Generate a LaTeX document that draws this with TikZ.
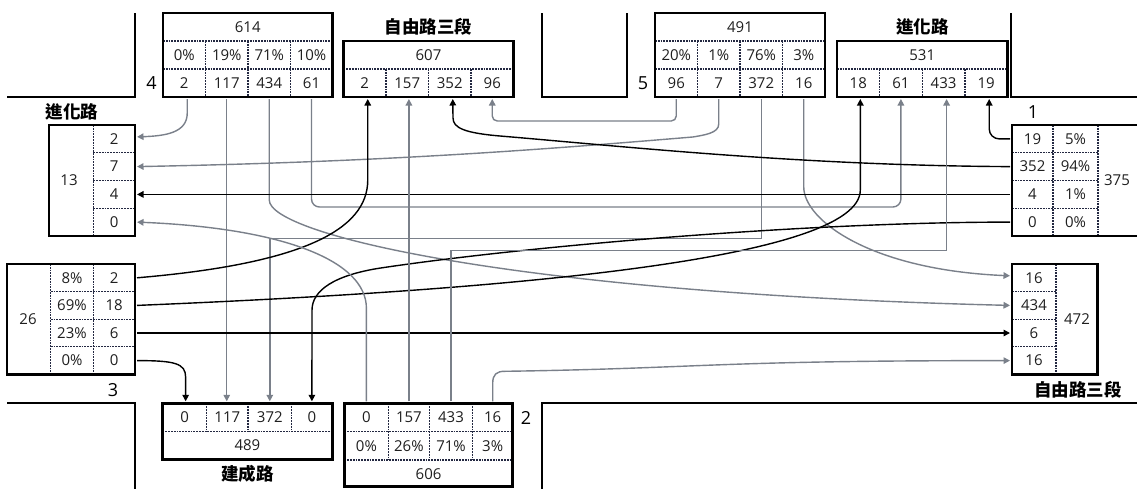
\documentclass[tikz,border=0pt]{standalone}
\usepackage{fontspec}
\setmainfont{Open Sans}
\newfontfamily\cjk{Noto Sans CJK TC}
\usetikzlibrary{arrows.meta,calc}
\definecolor{arrgray}{RGB}{122,128,138}
\definecolor{divc}{RGB}{35,40,65}
\begin{document}
\begin{tikzpicture}[x=1pt,y=-1pt,
  boxline/.style={draw=black,line width=2.8pt},
  roadline/.style={draw=black,line width=2.8pt},
  divline/.style={draw=divc,line width=1.3pt,dash pattern=on 1.8pt off 1pt},
  numtxt/.style={font=\fontsize{15}{17}\selectfont,inner sep=0pt,text=black!88},
  topcell/.style={numtxt,minimum width=42.4pt,minimum height=28pt,outer sep=2pt},
  botcell/.style={numtxt,minimum width=42.4pt,minimum height=28.4pt,outer sep=2pt},
  sidecell/.style={numtxt,minimum width=41.7pt,minimum height=27.75pt,outer sep=2pt},
  bignum/.style={font=\fontsize{18}{20}\selectfont,inner sep=0pt},
  cjklab/.style={font=\cjk\bfseries\fontsize{17.5}{19}\selectfont,inner sep=0pt},
  arrtip/.style={-{Triangle[length=6.5pt,width=6.5pt]}},
  garr/.style={draw=arrgray,line width=1.4pt,arrtip},
  barr/.style={draw=black,line width=1.4pt,arrtip},
]
\useasboundingbox (0,0) rectangle (1137,488);
\fill[white] (0,0) rectangle (1137,488);
\clip (0,0) rectangle (1137,488);

% ---------- roads ----------
\draw[roadline] (7,97) -- (135,97) -- (135,13);
\draw[roadline] (542,13) -- (542,97) -- (627,97) -- (627,13);
\draw[roadline] (1011,13) -- (1011,97) -- (1145,97);
\draw[roadline] (7,403) -- (135,403) -- (135,495);
\draw[roadline] (1145,403) -- (542,403) -- (542,495);

% ---------- box 614 (approach 4) ----------
\node[numtxt] (h614) at (247.75,27) {614};
\foreach \t/\n/\x in {0\%/a/184.25,19\%/b/226.75,71\%/c/269.25,10\%/d/311.5}
  \node[numtxt] (q4\n) at (\x,55) {\t};
\foreach \t/\n/\x in {2/a/184.25,117/b/226.75,434/c/269.25,61/d/311.5}
  \node[topcell] (n4\n) at (\x,83) {\t};
\node[bignum] (l4) at (151.5,83) {4};

% ---------- box 607 ----------
\node[cjklab] (t607) at (428.5,27) {自由路三段};
\node[numtxt] (h607) at (428.5,55) {607};
\foreach \t/\n/\x in {2/a/364.75,157/b/407.25,352/c/449.75,96/d/492.25}
  \node[topcell] (p607\n) at (\x,83) {\t};

% ---------- box 491 (approach 5) ----------
\node[numtxt] (h491) at (740,27) {491};
\foreach \t/\n/\x in {20\%/a/676.25,1\%/b/718.75,76\%/c/761.25,3\%/d/803.75}
  \node[numtxt] (q5\n) at (\x,55) {\t};
\foreach \t/\n/\x in {96/a/676.25,7/b/718.75,372/c/761.25,16/d/803.75}
  \node[topcell] (n5\n) at (\x,83) {\t};
\node[bignum] (l5) at (643,83) {5};

% ---------- box 531 ----------
\node[cjklab] (t531) at (922.25,27) {進化路};
\node[numtxt] (h531) at (922.25,55) {531};
\foreach \t/\n/\x in {18/a/858.3,61/b/900.9,433/c/943.6,19/d/986.2}
  \node[topcell] (p531\n) at (\x,83) {\t};

% ---------- box 13 ----------
\node[cjklab] (t13) at (72,112) {進化路};
\node[numtxt] (h13) at (69,180.5) {13};
\foreach \t/\n/\y in {2/a/138.9,7/b/166.6,4/c/194.4,0/d/222.1}
  \node[sidecell] (p13\n) at (114.15,\y) {\t};

% ---------- box 375 (approach 1) ----------
\node[bignum] (l1) at (1033,112) {1};
\node[numtxt] (h375) at (1117,180.5) {375};
\foreach \t/\n/\y in {19/a/138.9,352/b/166.6,4/c/194.4,0/d/222.1}
  \node[sidecell,minimum width=41pt] (n1\n) at (1032.5,\y) {\t};
\foreach \t/\n/\y in {5\%/a/138.9,94\%/b/166.6,1\%/c/194.4,0\%/d/222.1}
  \node[numtxt] (q1\n) at (1075.5,\y) {\t};

% ---------- box 26 (approach 3) ----------
\node[numtxt] (h26) at (28,319.2) {26};
\node[bignum] (l3) at (113,390) {3};
\foreach \t/\n/\y in {8\%/a/277.8,69\%/b/305.4,23\%/c/333,0\%/d/360.6}
  \node[numtxt] (q3\n) at (72,\y) {\t};
\foreach \t/\n/\y in {2/a/277.8,18/b/305.4,6/c/333,0/d/360.6}
  \node[sidecell] (n3\n) at (114.15,\y) {\t};

% ---------- box 472 ----------
\node[numtxt] (h472) at (1077,319.2) {472};
\node[cjklab] (t472) at (1078,390) {自由路三段};
\foreach \t/\n/\y in {16/a/277.8,434/b/305.4,6/c/333,16/d/360.6}
  \node[sidecell,minimum width=44pt] (p472\n) at (1034,\y) {\t};

% ---------- box 489 ----------
\foreach \t/\n/\x in {0/a/184.65,117/b/227.35,372/c/269.8,0/d/311.9}
  \node[botcell] (p489\n) at (\x,417.5) {\t};
\node[numtxt] (h489) at (247.4,445.5) {489};
\node[cjklab] (t489) at (247.4,474) {建成路};

% ---------- box 606 (approach 2) ----------
\foreach \t/\n/\x in {0/a/366.4,157/b/408.9,433/c/451,16/d/492.7}
  \node[botcell] (n2\n) at (\x,417.5) {\t};
\foreach \t/\n/\x in {0\%/a/366.4,26\%/b/408.9,71\%/c/451,3\%/d/492.7}
  \node[numtxt] (q2\n) at (\x,445.85) {\t};
\node[numtxt] (h606) at (428.6,474) {606};
\node[bignum] (l2) at (526,417.7) {2};

% ---------- connectors ----------
% approach 4
\draw[garr] ([xshift=3pt]n4a.south) -- ++(0,14) .. controls +(0,20) and +(28,-1) .. ([yshift=2pt]p13a.east);
\draw[garr] (n4b.south) -- (n4b.south |- p489b.north);
\draw[garr] (n4c.south) -- ++(0,101) .. controls +(0,35) and +(-490,-12) .. (p472b.west);
\draw[garr,rounded corners=8pt] (n4d.south) -- ++(0,108) -| (p531b.south);
% approach 5
\draw[garr,rounded corners=5pt] (n5a.south) -- ++(0,22) -| (p607d.south);
\draw[garr] (n5b.south) -- ++(0,25) .. controls +(0,9) and +(12,-2) .. ++(-26,13)
  .. controls +(-133,11) and +(262,-5) .. (p13b.east);
\draw[garr] (n5c.south) -- ++(0,139.3) -| (p489c.north);
\draw[garr] (n5d.south) -- ++(0,88) .. controls +(0,33) and +(-140,-6) .. ([yshift=2pt]p472a.west);
% approach 1
\draw[barr,rounded corners=10pt] (n1a.west) -| ([xshift=3pt]p531d.south);
\draw[barr] (n1b.west) .. controls +(-210,-1) and +(120,10) .. ++(-510,-30.6)
  .. controls +(-35,-3) and +(0,10) .. ++(-47,-18) -- ([xshift=3pt]p607c.south);
\draw[barr] (n1c.west) -- (p13c.east);
\draw[barr] (n1d.west) .. controls +(-210,0) and +(140,-21) .. ++(-630,46)
  .. controls +(-45,7) and +(0,-20) .. ++(-68,42) -- (p489d.north);
% approach 3
\draw[barr] (n3a.east) .. controls +(165,-14) and +(0,50) .. ($(p607a.south)+(3,81)$) -- ([xshift=3pt]p607a.south);
\draw[barr] (n3b.east) .. controls +(365,-15) and +(0,70) .. ($(p531a.south)+(2,91)$) -- ([xshift=2pt]p531a.south);
\draw[barr] (n3c.east) -- (p472c.west);
\draw[barr] (n3d.east) .. controls +(38,0) and +(0,-14) .. ($(p489a.north)+(1,-24)$) -- ([xshift=1pt]p489a.north);
% approach 2
\draw[garr] (n2a.north) -- ++(0,-93) .. controls +(0,-48) and +(145,6) .. (p13d.east);
\draw[garr] (n2b.north) -- (n2b.north |- p607b.south);
\draw[garr] (n2c.north) -- ++(0,-151) -| ([xshift=3pt]p531c.south);
\draw[garr] (n2d.north) -- ++(0,-18) .. controls +(0,-9) and +(-8,0) .. ++(12,-12)
  .. controls +(200,-3) and +(-300,0) .. (p472d.west);

% ---------- dividers ----------
\draw[divline] (163,41) -- (332.5,41) (163,69) -- (332.5,69)
  (205.5,41) -- (205.5,97) (248,41) -- (248,97) (290.5,41) -- (290.5,97);
\draw[divline] (343.5,69) -- (513.5,69)
  (386,69) -- (386,97) (428.5,69) -- (428.5,97) (471,69) -- (471,97);
\draw[divline] (655,41) -- (825,41) (655,69) -- (825,69)
  (697.5,41) -- (697.5,97) (740,41) -- (740,97) (782.5,41) -- (782.5,97);
\draw[divline] (837,69) -- (1007.5,69)
  (879.6,69) -- (879.6,97) (922.25,69) -- (922.25,97) (964.9,69) -- (964.9,97);
\draw[divline] (93.3,125) -- (93.3,236)
  (93.3,152.75) -- (135,152.75) (93.3,180.5) -- (135,180.5) (93.3,208.25) -- (135,208.25);
\draw[divline] (1053,125) -- (1053,236) (1098,125) -- (1098,236)
  (1012,152.75) -- (1098,152.75) (1012,180.5) -- (1098,180.5) (1012,208.25) -- (1098,208.25);
\draw[divline] (50.7,264) -- (50.7,374.4) (93.3,264) -- (93.3,374.4)
  (50.7,291.6) -- (135,291.6) (50.7,319.2) -- (135,319.2) (50.7,346.8) -- (135,346.8);
\draw[divline] (1056,264) -- (1056,374.4)
  (1012,291.6) -- (1056,291.6) (1012,319.2) -- (1056,319.2) (1012,346.8) -- (1056,346.8);
\draw[divline] (162.6,431.7) -- (332.2,431.7)
  (206.7,403.3) -- (206.7,431.7) (248,403.3) -- (248,431.7) (291.6,403.3) -- (291.6,431.7);
\draw[divline] (344.4,431.7) -- (512.8,431.7) (344.4,460) -- (512.8,460)
  (388.4,403.3) -- (388.4,460) (429.4,403.3) -- (429.4,460) (472.6,403.3) -- (472.6,460);

% ---------- box borders ----------
\draw[boxline] (163,13) rectangle (332.5,97);
\draw[boxline] (343.5,41) rectangle (513.5,97);
\draw[boxline] (655,13) rectangle (825,97);
\draw[boxline] (837,41) rectangle (1007.5,97);
\draw[boxline] (49,125) rectangle (135,236);
\draw[boxline] (1145,125) -- (1012,125) -- (1012,236) -- (1145,236);
\draw[boxline] (7,264) rectangle (135,374.4);
\draw[boxline] (1012,264) rectangle (1097.4,374.4);
\draw[boxline] (162.6,403.3) rectangle (332.2,459.3);
\draw[boxline] (344.4,403.3) rectangle (512.8,486.8);
\end{tikzpicture}
\end{document}
